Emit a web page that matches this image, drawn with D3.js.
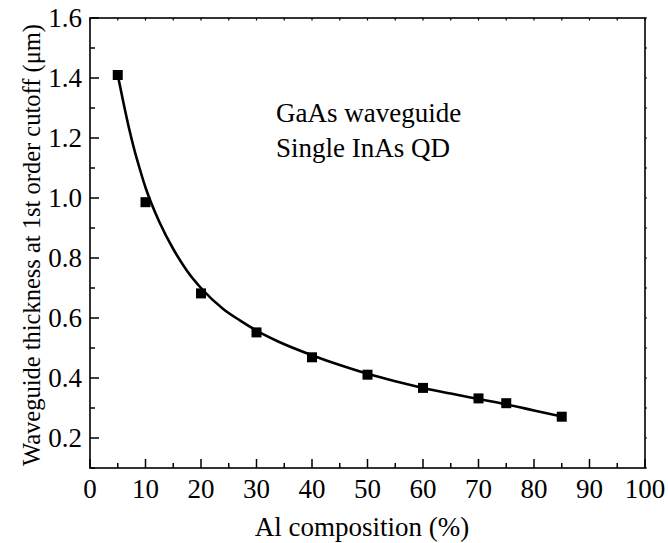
<!DOCTYPE html>
<html><head><meta charset="utf-8"><script src="https://cdn.jsdelivr.net/npm/d3@7"></script></head>
<body style="margin:0">
<svg id="chart" width="668" height="543"></svg>
<script>
// Measured points: Al composition (%) vs waveguide thickness (um)
const pointX = [5, 10, 20, 30, 40, 50, 60, 70, 75, 85];
const pointY = [1.41, 0.986, 0.682, 0.552, 0.469, 0.411, 0.367, 0.332, 0.316, 0.271];
// Fitted curve
const curveX = [5, 6, 7, 8, 9, 10, 11, 12.5, 15, 17.5, 20, 24, 27, 30, 34, 40, 45, 50, 55, 60, 65, 70, 75, 80, 85];
const curveY = [1.41, 1.32, 1.235, 1.16, 1.095, 1.035, 0.985, 0.92, 0.83, 0.757, 0.70, 0.63, 0.592, 0.558, 0.521, 0.476, 0.443, 0.414, 0.389, 0.367, 0.348, 0.330, 0.312, 0.292, 0.272];
const xTicks = [0, 10, 20, 30, 40, 50, 60, 70, 80, 90, 100];
const yTicks = [0.2, 0.4, 0.6, 0.8, 1.0, 1.2, 1.4, 1.6];
const xLabel = "Al composition (%)";
const yLabel = "Waveguide thickness at 1st order cutoff (\u03BCm)";
const noteLines = ["GaAs waveguide", "Single InAs QD"];

const FONT = "Liberation Serif";
const svg = d3.select("#chart");
const L = 90, R = 645, T = 18, B = 468;
const x = d3.scaleLinear().domain([0, 100]).range([L, R]);
const y = d3.scaleLinear().domain([0.1, 1.6]).range([B, T]);

const xMinor = d3.range(0, 100.01, 5);
const yMinor = d3.range(0.1, 1.601, 0.1).map(v => +v.toFixed(2));

// Bottom tick labels and inward ticks
svg.append("g").selectAll("text").data(xTicks).enter().append("text")
  .attr("x", d => x(d)).attr("y", B + 30).attr("text-anchor", "middle")
  .attr("font-family", FONT).attr("font-size", 27).text(d3.format("d"));
svg.append("g").selectAll("line").data(xMinor).enter().append("line")
  .attr("x1", d => x(d)).attr("x2", d => x(d))
  .attr("y1", B).attr("y2", d => B - (d % 10 === 0 ? 9 : 5))
  .attr("stroke", "#000").attr("stroke-width", 1.5);

// Left tick labels and inward ticks
svg.append("g").selectAll("text").data(yTicks).enter().append("text")
  .attr("x", L - 8).attr("y", d => y(d) + 9).attr("text-anchor", "end")
  .attr("font-family", FONT).attr("font-size", 27).text(d3.format(".1f"));
svg.append("g").selectAll("line").data(yMinor).enter().append("line")
  .attr("x1", L).attr("x2", d => L + (Math.round(d * 10) % 2 === 0 ? 9 : 5))
  .attr("y1", d => y(d)).attr("y2", d => y(d))
  .attr("stroke", "#000").attr("stroke-width", 1.5);

// Top and right mirror ticks (short)
svg.append("g").selectAll("line").data(xMinor).enter().append("line")
  .attr("x1", d => x(d)).attr("x2", d => x(d)).attr("y1", T).attr("y2", T + 2.5)
  .attr("stroke", "#000").attr("stroke-width", 1.2);
svg.append("g").selectAll("line").data(yMinor).enter().append("line")
  .attr("x1", R).attr("x2", R + 2).attr("y1", d => y(d)).attr("y2", d => y(d))
  .attr("stroke", "#000").attr("stroke-width", 1.2);

// Frame
svg.append("rect").attr("x", L).attr("y", T).attr("width", R - L).attr("height", B - T)
  .attr("fill", "none").attr("stroke", "#000").attr("stroke-width", 1.6);

// Fitted curve
const curveData = curveX.map((d, i) => [d, curveY[i]]);
svg.append("path").datum(curveData)
  .attr("d", d3.line().x(d => x(d[0])).y(d => y(d[1])).curve(d3.curveMonotoneX))
  .attr("fill", "none").attr("stroke", "#000").attr("stroke-width", 2.6);

// Square markers
const S = 10;
svg.append("g").selectAll("rect").data(pointX.map((d, i) => [d, pointY[i]])).enter().append("rect")
  .attr("x", d => x(d[0]) - S / 2).attr("y", d => y(d[1]) - S / 2)
  .attr("width", S).attr("height", S).attr("fill", "#000");

// Annotation
svg.append("g").selectAll("text").data(noteLines).enter().append("text")
  .attr("x", 276).attr("y", (d, i) => 122 + i * 35)
  .attr("font-family", FONT).attr("font-size", 27).text(d => d);

// Axis titles
svg.append("text").attr("x", 362).attr("y", 536).attr("text-anchor", "middle")
  .attr("font-family", FONT).attr("font-size", 27).text(xLabel);
svg.append("text").attr("transform", "translate(40,245) rotate(-90)")
  .attr("text-anchor", "middle").attr("font-family", FONT).attr("font-size", 24.5).text(yLabel);
</script>
</body>
</html>
